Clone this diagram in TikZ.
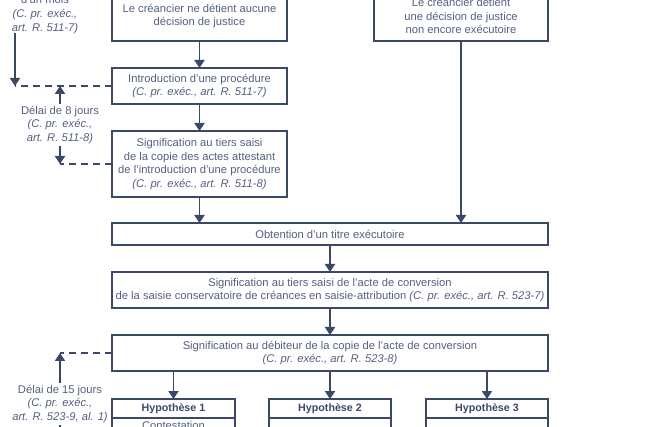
\documentclass[tikz,border=0pt]{standalone}
\usepackage{fontspec}
\setmainfont{Liberation Sans}
\usepackage{xcolor}
\usetikzlibrary{arrows.meta,calc,positioning}
\definecolor{linecol}{RGB}{60,72,104}
\definecolor{textcol}{RGB}{84,96,126}
\tikzset{%
	box/.style      = {draw=linecol, line width=1.8pt, rectangle, outer sep=0pt, inner sep=2pt, text=textcol, align=center, font=\fontsize{11.2}{13.7}\selectfont},
	smallbox/.style = {box, minimum width=175pt},
	widebox/.style  = {box, minimum width=436pt},
	hypo/.style     = {box, minimum width=122.5pt, minimum height=19pt, text=linecol, font=\fontsize{10.7}{13.7}\selectfont\bfseries},
	hbody/.style    = {box, minimum width=122.5pt, minimum height=40pt},
	note/.style     = {text=textcol, align=center, inner sep=2pt, font=\fontsize{11.2}{13.7}\selectfont},
	arrow/.style    = {draw=linecol, line width=1.8pt, -{Triangle[width=10pt,length=8pt]}},
	dashline/.style = {draw=linecol, line width=1.8pt, dash pattern=on 7pt off 5pt},
}
\begin{document}
\begin{tikzpicture}[x=1pt,y=-1pt]
	\useasboundingbox (0,0) rectangle (645,427);
	\clip (0,0) rectangle (645,427);
	\node[smallbox, minimum height=50pt] (nodec) at (199.5,16) {Le créancier ne détient aucune\\décision de justice};
	\node[smallbox, minimum width=174pt, minimum height=50pt] (dec) at (461,16) {Le créancier détient\\une décision de justice\\non encore exécutoire};
	\node[smallbox, minimum height=36pt] (intro) at (199.5,86) {Introduction d’une procédure\\\textit{(C. pr. exéc., art. R. 511-7)}};
	\node[smallbox, minimum height=66pt] (signt) at (199.5,164) {Signification au tiers saisi\\de la copie des actes attestant\\de l’introduction d’une procédure\\\textit{(C. pr. exéc., art. R. 511-8)}};
	\node[widebox, minimum height=22pt] (titre) at (330,234) {Obtention d’un titre exécutoire};
	\node[widebox, minimum height=36pt] (conv) at (330,290) {Signification au tiers saisi de l’acte de conversion\\de la saisie conservatoire de créances en saisie-attribution \textit{(C. pr. exéc., art. R. 523-7)}};
	\node[widebox, minimum height=36pt] (signd) at (330,353) {Signification au débiteur de la copie de l’acte de conversion\\\textit{(C. pr. exéc., art. R. 523-8)}};
	\node[hypo, anchor=north] (h1) at (173.5,399) {Hypothèse 1};
	\node[hypo, anchor=north] (h2) at (330,399) {Hypothèse 2};
	\node[hypo, anchor=north] (h3) at (487,399) {Hypothèse 3};
	\node[hbody, below=0pt of h1] (b1) {};
	\node[hbody, below=0pt of h2] (b2) {};
	\node[hbody, below=0pt of h3] (b3) {};
	\node[note, anchor=north] (contest) at ($(b1.north)+(0,1)$) {Contestation};

	\node[note] (delai1) at (45,14.5) {d’un mois\\\textit{(C. pr. exéc.,}\\\textit{art. R. 511-7)}};
	\node[note] (delai8) at (60,125) {Délai de 8 jours\\\textit{(C. pr. exéc.,}\\\textit{art. R. 511-8)}};
	\node[note] (delai15) at (60,404) {Délai de 15 jours\\\textit{(C. pr. exéc.,}\\\textit{art. R. 523-9, al. 1)}};
	\coordinate (a1) at (15,33);
	\coordinate (a15) at (60,460);

	\draw[arrow] (nodec.south) -- (intro.north);
	\draw[arrow] (intro.south) -- (signt.north);
	\draw[arrow] (signt.south) -- (signt.south |- titre.north);
	\draw[arrow] (dec.south) -- (dec.south |- titre.north);
	\draw[arrow] (titre.south) -- (conv.north);
	\draw[arrow] (conv.south) -- (signd.north);
	\draw[arrow] (signd.south -| h1) -- (h1.north);
	\draw[arrow] (signd.south -| h2) -- (h2.north);
	\draw[arrow] (signd.south -| h3) -- (h3.north);

	\draw[dashline] (intro.west) -- (intro.west -| a1);
	\draw[arrow] (a1) -- (intro.west -| a1);
	\draw[arrow] (delai8.north) -- (delai8.north |- intro.west);
	\draw[dashline] (signt.west) -- (signt.west -| delai8);
	\draw[arrow] (delai8.south) -- (delai8.south |- signt.west);
	\draw[dashline] (signd.west) -- (signd.west -| delai15);
	\draw[arrow] (delai15.north) -- (delai15.north |- signd.west);
	\draw[arrow] (delai15.south) -- (a15);
\end{tikzpicture}
\end{document}
